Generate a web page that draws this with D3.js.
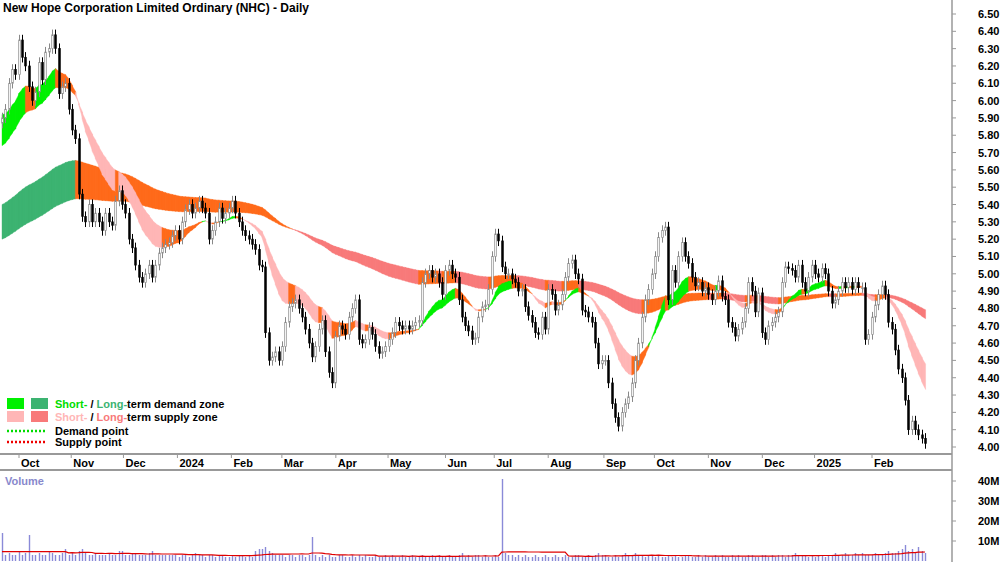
<!DOCTYPE html>
<html><head><meta charset="utf-8">
<script src="https://cdn.jsdelivr.net/npm/d3@7"></script>
<style>body{margin:0;background:#fff}svg{display:block;font-family:'Liberation Sans',Arial,sans-serif}</style>
</head><body><svg id="c" width="1000" height="562"></svg>
<script>
// daily closes (Sep 2023 - Feb 2025)
const closes = [
  5.9, 5.95, 6.1, 6.18, 6.15, 6.35, 6.25, 6.2, 6.08, 6.0, 6.05, 6.22, 6.12, 6.28, 6.3, 6.38, 6.3, 6.04, 6.08, 6.1, 5.95, 5.83, 5.78,
  5.46, 5.33, 5.3, 5.4, 5.3, 5.35, 5.3, 5.25, 5.35, 5.3, 5.28, 5.42, 5.48, 5.4, 5.35, 5.2, 5.15, 5.05, 4.98, 4.95,
  5.0, 5.05, 4.98, 5.05, 5.12, 5.15, 5.17, 5.18, 5.22, 5.25, 5.2, 5.3, 5.37, 5.4, 5.35, 5.38, 5.42, 5.38, 5.35, 5.2,
  5.25, 5.3, 5.38, 5.32, 5.35, 5.38, 5.42, 5.35, 5.3,
  5.25, 5.22, 5.2, 5.17, 5.14, 5.05, 5.04, 4.66, 4.5, 4.52, 4.55, 4.5, 4.58, 4.72, 4.81, 4.83, 4.85, 4.8, 4.75, 4.68,
  4.6, 4.52, 4.58, 4.68, 4.73, 4.55, 4.43, 4.37, 4.64, 4.7, 4.68, 4.65, 4.75, 4.8, 4.85, 4.62, 4.6, 4.62, 4.69, 4.65,
  4.58, 4.54, 4.55, 4.58, 4.62, 4.66, 4.72, 4.7, 4.68, 4.7, 4.68, 4.7, 4.72, 4.73, 4.95, 5.0, 5.02, 4.98, 5.0, 4.95,
  4.88, 5.02, 5.05, 5.0, 4.98, 4.85, 4.75, 4.7, 4.67,
  4.62, 4.63, 4.75, 4.81, 4.82, 4.91, 5.1, 5.23, 5.19, 5.04, 5.0, 5.0, 4.97, 4.95, 4.9, 4.91, 4.81, 4.76, 4.72, 4.66,
  4.65, 4.75, 4.68, 4.91, 4.88, 4.79, 4.82, 4.88, 4.98, 5.06, 5.08, 5.0, 4.97, 4.79, 4.78, 4.75, 4.72, 4.6, 4.48, 4.5,
  4.5, 4.37, 4.25, 4.17, 4.12, 4.2, 4.25, 4.29, 4.37, 4.5, 4.6, 4.75, 4.85, 4.91, 5.0, 5.1, 5.21, 5.25, 5.27, 4.85,
  5.02, 4.95, 5.1, 5.18, 5.1, 5.06, 4.98, 4.93,
  4.95, 4.9, 4.92, 4.88, 4.85, 4.9, 4.96, 4.87, 4.85, 4.72, 4.69, 4.64, 4.68, 4.72, 4.8, 4.95, 4.9, 4.78, 4.89, 4.66,
  4.62, 4.7, 4.72, 4.75, 4.78, 4.95, 5.04, 5.03, 5.02, 4.98, 5.05, 4.95, 4.9, 4.98, 5.05, 5.0, 4.98, 5.03, 5.0, 4.9,
  4.83, 4.85, 4.9, 4.95, 4.92, 4.95, 4.91, 4.95, 4.92, 4.92, 4.62, 4.65, 4.75, 4.82, 4.88, 4.93, 4.88, 4.72, 4.68, 4.56,
  4.45, 4.4, 4.27, 4.1, 4.15, 4.1, 4.07, 4.05, 4.02
];
// volume, millions
const volumes = [
  14,3,4,3,3,5,3,4,13,3, 3,4,3,3,5,4,3,3,4,6, 3,4,3,5,6,4,3,3,4,3, 3,3,4,3,3,5,5,3,3,4,
  4,3,3,3,4,5,3,3,3,3, 3,3,3,2,3,3,2,3,4,3, 3,2,3,3,2,3,3,2,2,3, 2,3,3,2,3,2,5,6,6,7,
  5,4,3,3,3,2,3,3,2,3, 3,2,3,12,3,2,3,2,3,2, 2,3,3,2,2,3,2,3,2,3, 2,2,3,2,2,3,2,3,2,2,
  3,2,2,3,2,2,3,2,2,3, 2,3,2,2,3,2,2,3,4,2, 3,2,3,3,2,3,2,2,3,2, 41,4,3,3,2,3,2,3,2,2,
  3,2,2,3,2,2,3,2,2,3, 2,2,3,3,2,2,3,2,3,4, 3,3,2,2,3,2,3,4,3,3, 4,3,3,2,3,3,2,3,2,2,
  3,2,3,2,2,3,3,2,2,3, 2,3,2,2,3,2,3,2,2,3, 2,3,2,2,3,3,2,2,3,3, 2,3,2,3,3,2,3,3,4,3,
  3,3,2,3,2,3,3,2,3,3, 4,3,3,4,3,3,4,3,4,3, 3,3,4,3,3,4,5,4,4,5, 6,8,5,6,4,7,5,4
];
// zone seeds at the left edge (fast, slow)
const shortSeed = [5.92, 5.74];
const longSeed = [5.40, 5.20];
const priceTicks = d3.range(4.0, 6.501, 0.1);
const volTicks = [10, 20, 30, 40];

const svg = d3.select('#c');
const W = 952, priceBottom = 454, volTop = 470, volBottom = 561;

const x = d3.scaleTime()
    .domain([new Date(2023, 9, 2), new Date(2025, 1, 3)])
    .range([19, 872]);
const t0 = x.invert(2), t1 = x.invert(925);
const n = closes.length;
const dates = closes.map((c, i) => new Date(+t0 + (t1 - t0) * i / (n - 1)));
const y = d3.scaleLinear().domain([4.0, 6.5]).range([447, 14]);
const yv = d3.scaleLinear().domain([0, 40]).range([volBottom, 481]);

const ema = (period, seed) => {
  const a = 2 / (period + 1); let v = seed;
  return closes.map((c, i) => (i === 0 ? v : (v = v + a * (c - v))));
};
const sF = ema(15, shortSeed[0]), sS = ema(25, shortSeed[1]);
const lF = ema(100, longSeed[0]), lS = ema(150, longSeed[1]);

// green: fast above slow and rising; red: fast below slow and falling; orange otherwise
const zone = (f, s, up, down) => {
  const g = svg.append('g');
  for (let i = 0; i < n - 1; i++) {
    const rising = f[i + 1] > f[i];
    const bull = f[i + 1] > s[i + 1];
    const col = (bull && rising) ? up : (!bull && !rising) ? down : '#ff6a1a';
    const x0 = x(dates[i]), x1 = x(dates[i + 1]) + 0.6;
    g.append('path')
        .attr('d', `M${x0},${y(f[i])}L${x1},${y(f[i + 1])}L${x1},${y(s[i + 1])}L${x0},${y(s[i])}Z`)
        .attr('fill', col).attr('stroke', col).attr('stroke-width', 0.4);
  }
};
zone(lF, lS, '#3cb371', '#f87a7a');
zone(sF, sS, '#00f000', '#ffb6b6');

// candles
const cw = 1.6;
const cg = svg.append('g');
closes.forEach((c, i) => {
  const o = i ? closes[i - 1] : c - 0.03;
  const up = c >= o;
  const cx = Math.round(x(dates[i])) + 0.5;
  const hi = Math.max(o, c) + 0.03, lo = Math.min(o, c) - 0.03;
  cg.append('line').attr('x1', cx).attr('x2', cx).attr('y1', y(hi)).attr('y2', y(lo))
      .attr('stroke', up ? '#888' : '#000').attr('stroke-width', 1);
  cg.append('rect').attr('x', cx - cw / 2).attr('width', cw)
      .attr('y', y(Math.max(o, c))).attr('height', Math.max(1, Math.abs(y(o) - y(c))))
      .attr('fill', up ? '#fff' : '#000').attr('stroke', up ? '#888' : '#000').attr('stroke-width', 0.7);
});

// frames
svg.append('line').attr('x1', 0).attr('x2', W).attr('y1', priceBottom).attr('y2', priceBottom).attr('stroke', '#999').attr('stroke-width', 2);
svg.append('line').attr('x1', 0).attr('x2', W).attr('y1', volTop).attr('y2', volTop).attr('stroke', '#999').attr('stroke-width', 2);
svg.append('line').attr('x1', W).attr('x2', W).attr('y1', 0).attr('y2', 562).attr('stroke', '#999').attr('stroke-width', 1.5);

// price axis
const pa = svg.append('g').attr('font-size', 11).attr('font-weight', 'bold');
priceTicks.forEach((p) => {
  pa.append('line').attr('x1', W).attr('x2', W + 4).attr('y1', y(p)).attr('y2', y(p)).attr('stroke', '#999');
  pa.append('text').attr('x', 978).attr('y', y(p) + 4).text(p.toFixed(2));
});

// date axis
const months = d3.timeMonth.range(new Date(2023, 9, 1), new Date(2025, 2, 1));
const fmt = d3.timeFormat('%b');
const da = svg.append('g').attr('font-size', 11).attr('font-weight', 'bold');
months.forEach((m) => {
  const mx = x(d3.timeDay.offset(m, m.getDay() === 6 ? 2 : m.getDay() === 0 ? 1 : 0));
  da.append('line').attr('x1', mx).attr('x2', mx).attr('y1', priceBottom).attr('y2', priceBottom + 4).attr('stroke', '#999');
  da.append('text').attr('x', mx + 2).attr('y', 467).text(m.getMonth() === 0 ? m.getFullYear() : fmt(m));
});

// volume
const vol = volumes.slice(0, n);
const vg = svg.append('g');
vol.forEach((v, i) => {
  const vx = Math.round(x(dates[i])) + 0.5;
  vg.append('line').attr('x1', vx).attr('x2', vx).attr('y1', yv(0)).attr('y2', yv(v)).attr('stroke', '#8a8ad8').attr('stroke-width', 1.4);
});
const vma = vol.map((v, i, a) => d3.mean(i < 19 ? a.slice(0, 20) : a.slice(i - 19, i + 1)));
vg.append('path').datum(vma)
    .attr('d', d3.line().x((d, i) => x(dates[i])).y((d) => yv(d)))
    .attr('fill', 'none').attr('stroke', '#e00000').attr('stroke-width', 1.2);
const va = svg.append('g').attr('font-size', 11).attr('font-weight', 'bold');
volTicks.forEach((v) => {
  va.append('line').attr('x1', W).attr('x2', W + 4).attr('y1', yv(v)).attr('y2', yv(v)).attr('stroke', '#999');
  va.append('text').attr('x', 978).attr('y', yv(v) + 4).text(v + 'M');
});
svg.append('text').attr('x', 5).attr('y', 485).attr('font-size', 11).attr('font-weight', 'bold').attr('fill', '#8888cc').text('Volume');

// title
svg.append('text').attr('x', 3).attr('y', 12).attr('font-size', 12).attr('font-weight', 'bold')
    .text('New Hope Corporation Limited Ordinary (NHC) - Daily');

// legend
const lg = svg.append('g').attr('font-size', 11).attr('font-weight', 'bold');
[['#00f000', '#3cb371', 'Short-', 'Long-', 'term demand zone', '#00dd00', '#3cb371'],
  ['#ffb6b6', '#f87a7a', 'Short-', 'Long-', 'term supply zone', '#ffb6b6', '#f87a7a']].forEach((r, k) => {
  const yy = 398 + k * 13;
  lg.append('rect').attr('x', 7).attr('y', yy).attr('width', 17).attr('height', 11).attr('fill', r[0]);
  lg.append('rect').attr('x', 31).attr('y', yy).attr('width', 17).attr('height', 11).attr('fill', r[1]);
  const t = lg.append('text').attr('x', 55).attr('y', yy + 10);
  t.append('tspan').attr('fill', r[5]).text(r[2]);
  t.append('tspan').attr('fill', '#000').text(' / ');
  t.append('tspan').attr('fill', r[6]).text(r[3]);
  t.append('tspan').attr('fill', '#000').text(r[4]);
});
[['#00dd00', 'Demand point'], ['#ee0000', 'Supply point']].forEach((r, k) => {
  const yy = 431 + k * 11;
  lg.append('line').attr('x1', 7).attr('x2', 45).attr('y1', yy).attr('y2', yy)
      .attr('stroke', r[0]).attr('stroke-width', 2.5).attr('stroke-dasharray', '2,2');
  lg.append('text').attr('x', 55).attr('y', yy + 4).text(r[1]);
});
</script></body></html>
